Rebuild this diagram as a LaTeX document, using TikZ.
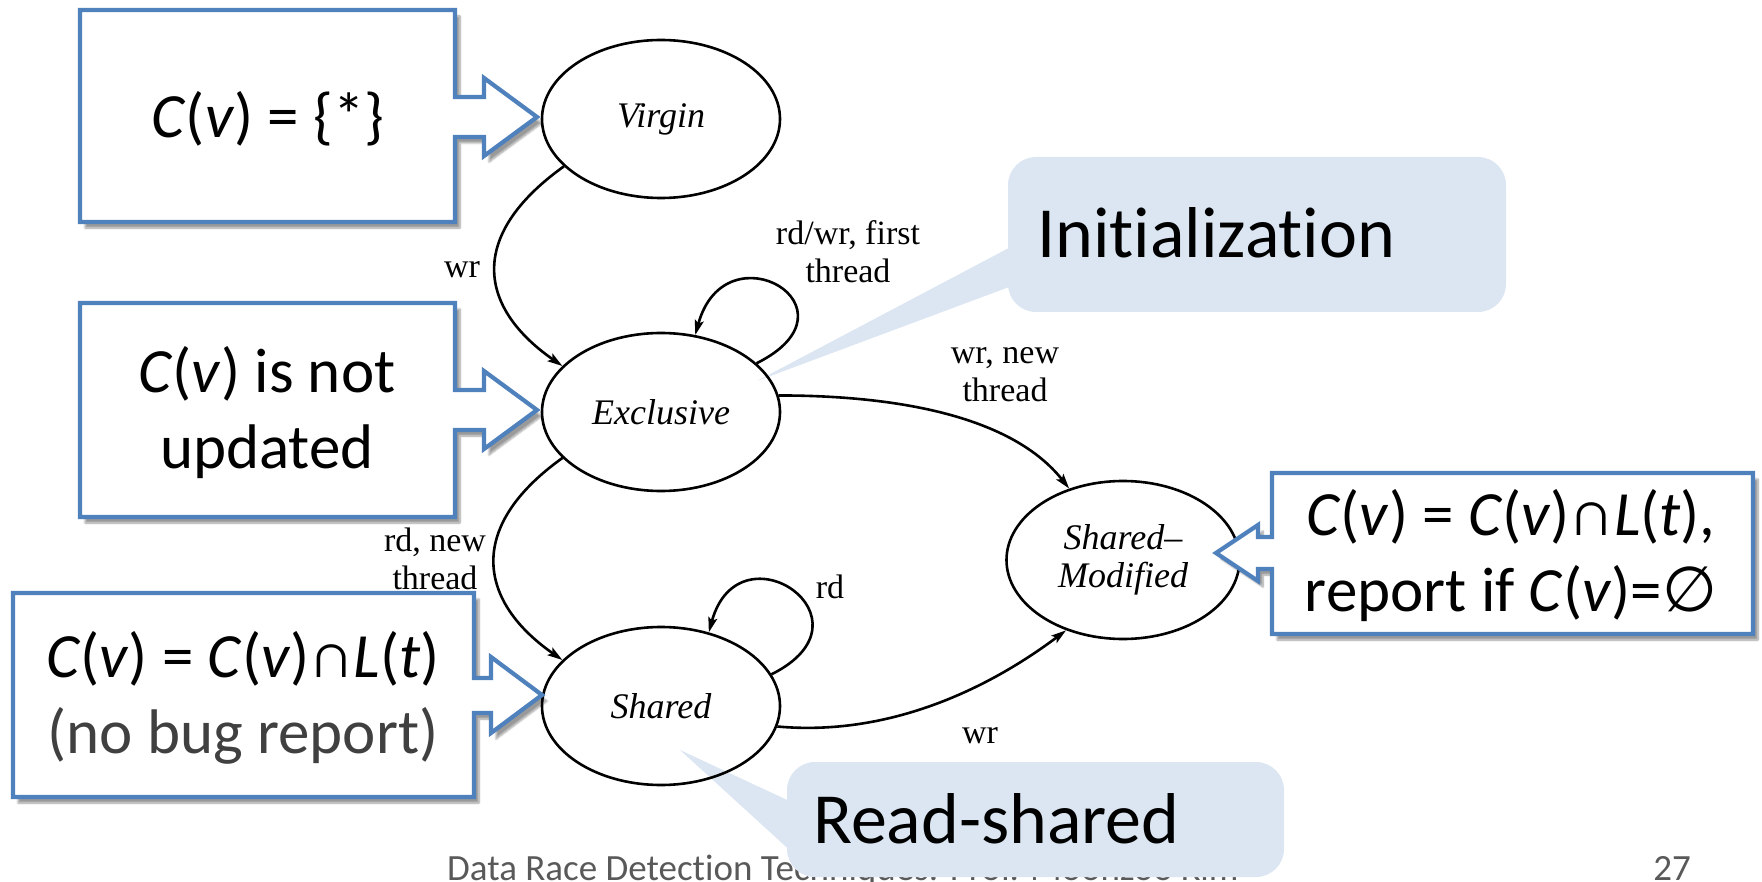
\documentclass[tikz,border=0pt]{standalone}
\usepackage{fontspec}
\setmainfont{Carlito}[Ligatures=NoCommon]
\newfontfamily\dserif{Liberation Serif}
\newfontfamily\symfam{DejaVu Sans}
\usetikzlibrary{arrows.meta,shapes.geometric,shadows.blur}
\definecolor{boxblue}{HTML}{4F81BD}
\definecolor{callfill}{HTML}{DCE6F2}
\definecolor{footgray}{HTML}{595959}
\definecolor{notegray}{HTML}{404040}
\begin{document}
\begin{tikzpicture}[x=1pt,y=-1pt,
  state/.style={draw=black, line width=2.6pt, ellipse, minimum width=238pt, minimum height=158pt, inner sep=0pt, align=center, font=\dserif\itshape\fontsize{36}{38}\selectfont},
  edgelbl/.style={inner sep=0pt, align=center, font=\dserif\fontsize{34}{38}\selectfont},
  trans/.style={line width=2.6pt, -{Stealth[length=15pt,width=9pt,inset=3pt]}},
  bluebox/.style={draw=boxblue, line width=4.2pt, fill=white, line join=miter,
    blur shadow={shadow xshift=5pt, shadow yshift=-6pt, shadow opacity=40, shadow blur steps=8}},
  boxtext/.style={inner sep=0pt, align=center, font=\fontsize{63}{76}\selectfont},
  callbox/.style={fill=callfill, rounded corners=28pt, inner sep=0pt},
  calltext/.style={inner sep=0pt, font=\fontsize{72}{80}\selectfont},
  foot/.style={inner sep=0pt, text=footgray, font=\fontsize{37}{40}\selectfont}
]
\useasboundingbox (0,0) rectangle (1762,882);

% footer
\node[foot, anchor=base west] (ft) at (447,880) {Data Race Detection Techniques: Prof. Moonzoo Kim};
\node[foot, anchor=base east] (pg) at (1691,880) {27};

% callouts (under the diagram)
\node[callbox, minimum width=498pt, minimum height=155pt] (init) at (1257,234.5) {};
\node[calltext, anchor=base west] (initt) at (1037,258) {Initialization};
\node[callbox, minimum width=497pt, minimum height=115pt] (rsh) at (1035.5,819.5) {};
\node[calltext, anchor=base west] (rsht) at (813,843) {Read-shared};
\coordinate (initTip) at (757,381);
\coordinate (rshTip) at (680,750);
\fill[callfill] ([yshift=-14pt]init.west) -- (initTip) -- ([yshift=-53pt]init.west) -- cycle;
\fill[callfill] ([yshift=-38pt]rsh.north west) -- (rshTip) -- ([yshift=-28pt]rsh.west) -- ([xshift=30pt,yshift=-28pt]rsh.west) -- cycle;

% states
\node[state] (V) at (661,119) {Virgin};
\node[state] (E) at (661,412) {Exclusive};
\node[state] (S) at (661,706) {Shared};
\node[state, minimum width=233pt, minimum height=158pt] (M) at (1123,560) {Shared–\\Modified};

% transitions
\draw[trans] (V.206) .. controls +(-99,71) and +(-82,-57) .. (E.155);
\draw[trans] (E.27) .. controls +(110,-55) and +(30,-110) .. (E.66);
\draw[trans] (E.8) .. controls +(120,0) and +(-57,-72) .. (M.127);
\draw[trans] (E.205) .. controls +(-99,71) and +(-82,-57) .. (S.155);
\draw[trans] (S.16) .. controls +(110,-55) and +(30,-110) .. (S.57);
\draw[trans] (S.350) .. controls +(110,10) and +(-80,60) .. (M.231);

% transition labels
\node[edgelbl, anchor=base] (l1) at (462,278) {wr};
\node[edgelbl] (l2) at (848,252) {rd/wr, first\\thread};
\node[edgelbl] (l3) at (1005,375) {wr, new\\thread};
\node[edgelbl] (l4) at (435,559) {rd, new\\thread};
\node[edgelbl, anchor=base] (l5) at (830,598) {rd};
\node[edgelbl, anchor=base] (l6) at (980,743) {wr};

% blue arrow boxes
\path[bluebox] (80,10) -- (455,10) -- (455,97) -- (484,97) -- (484,78) -- (537,117) -- (484,156) -- (484,137) -- (455,137) -- (455,222) -- (80,222) -- cycle;
\node[boxtext] (ta) at (268,119) {\textit{C}(\textit{v}) = \{*\}};

\path[bluebox] (80,303) -- (455,303) -- (455,390) -- (484,390) -- (484,371) -- (537,410) -- (484,449) -- (484,430) -- (455,430) -- (455,517) -- (80,517) -- cycle;
\node[boxtext] (tb) at (267,413) {\textit{C}(\textit{v}) is not\\updated};

\path[bluebox] (13,593) -- (474,593) -- (474,678) -- (491,678) -- (491,657) -- (542,695) -- (491,733) -- (491,713) -- (474,713) -- (474,797) -- (13,797) -- cycle;
\node[boxtext] (tc) at (243,698) {\textit{C}(\textit{v}) = \textit{C}(\textit{v})∩\textit{L}(\textit{t})\\\textcolor{notegray}{(no bug report)}};

\path[bluebox] (1272,473) -- (1753,473) -- (1753,634) -- (1272,634) -- (1272,569) -- (1258,569) -- (1258,581) -- (1216,553) -- (1258,525) -- (1258,537) -- (1272,537) -- cycle;
\node[boxtext] (td) at (1511,556) {\textit{C}(\textit{v}) = \textit{C}(\textit{v})∩\textit{L}(\textit{t}),\\report if \textit{C}(\textit{v})={\symfam ∅}};
\end{tikzpicture}
\end{document}
